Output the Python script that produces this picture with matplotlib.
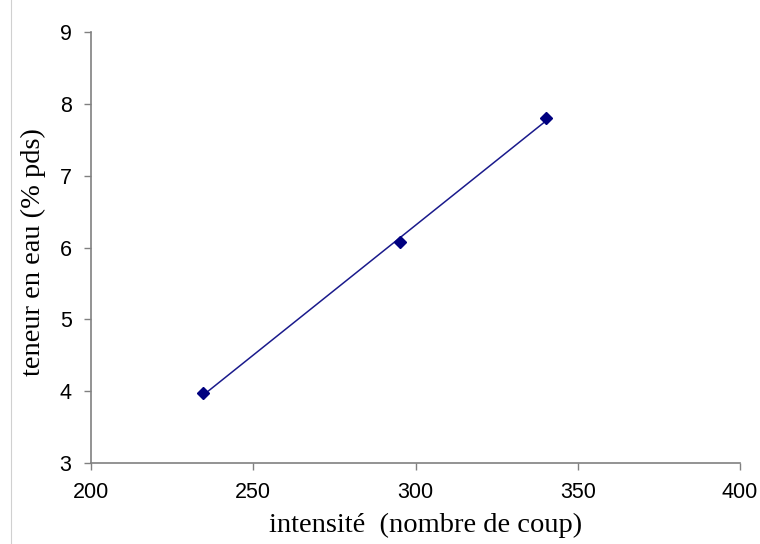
import numpy as np
import matplotlib.pyplot as plt
from matplotlib.lines import Line2D

# données
intensite = [234.5, 295.2, 340.2]
teneur = [3.97, 6.07, 7.80]

x_ticks = [200, 250, 300, 350, 400]
y_ticks = [3, 4, 5, 6, 7, 8, 9]

navy = '#000080'
grey = '#808080'

fig = plt.figure(figsize=(7.6, 5.44), dpi=100)
ax = fig.add_axes([91 / 760, 1 - 463 / 544, 649 / 760, 431 / 544])

# droite de régression
pente, ordonnee = np.polyfit(intensite, teneur, 1)
xs = np.array([min(intensite), max(intensite)])
ax.plot(xs, pente * xs + ordonnee, color='#1a1a8c', lw=1.1, zorder=2)
ax.plot(intensite, teneur, linestyle='none', marker='D', markersize=6.5,
        color=navy, zorder=3)

ax.set_xlim(200, 400)
ax.set_ylim(3, 9)
ax.set_xticks(x_ticks)
ax.set_yticks(y_ticks)

for side in ['top', 'right']:
    ax.spines[side].set_visible(False)
for side in ['left', 'bottom']:
    ax.spines[side].set_color(grey)
    ax.spines[side].set_linewidth(1.2)

ax.tick_params(direction='out', length=5, width=1, color=grey,
               labelsize=15.5, pad=9)
for lab in ax.get_xticklabels() + ax.get_yticklabels():
    lab.set_family('Liberation Sans')

ax.set_xlabel('intensité  (nombre de coup)', family='Liberation Serif',
              fontsize=20.5, labelpad=7)
ax.set_ylabel('teneur en eau (% pds)', family='Liberation Serif',
              fontsize=20.5, labelpad=10)
ax.xaxis.label.set_x(0.515)
ax.yaxis.label.set_y(0.49)

# fine ligne grise à gauche de l'image
fig.add_artist(Line2D([11 / 760, 11 / 760], [0, 1], color='#d0d0d0', lw=0.8))

fig.savefig('out.png', dpi=100)
